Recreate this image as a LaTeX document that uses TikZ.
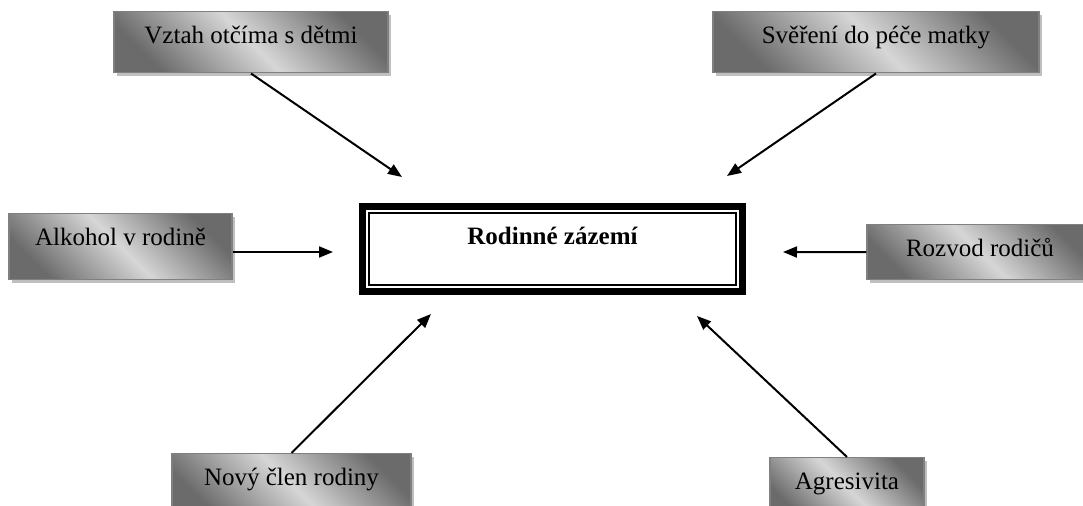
\documentclass[tikz,border=0pt]{standalone}
\usepackage{fontspec}
\setmainfont{Liberation Serif}
\usetikzlibrary{positioning,shadows,calc,arrows.meta}

\begin{document}
\begin{tikzpicture}[x=0.5pt, y=-0.5pt,
    every node/.style={font=\fontsize{12.5}{15}\selectfont},
    cause/.style={draw=black!50, line width=0.75pt,
        top color=black!58, bottom color=black!58, middle color=black!16,
        shading angle=-45,
        drop shadow={shadow xshift=1.5pt, shadow yshift=-1.5pt, fill=black!25, opacity=1},
        anchor=north, inner ysep=0pt, text height=16pt, text depth=#1},
    cause/.default=14.5pt,
    hubbox/.style={draw, line width=3.3pt, outer sep=0pt, fill=white,
        minimum width=190.25pt, minimum height=42.75pt,
        text height=9pt, text depth=13pt,
        font=\fontsize{12.5}{15}\selectfont\bfseries},
    link/.style={line width=1pt, -{Triangle[length=7pt,width=5.5pt]}}]

    \useasboundingbox (0,0) rectangle (1083,506);

    % central box with double frame
    \node[hubbox] (hub) at (552.5,249) {Rodinné zázemí};
    \draw[line width=0.8pt] ($(hub.north west)+(6.5,6.5)$) rectangle ($(hub.south east)+(-6.5,-6.5)$);

    % influences
    \node[cause, minimum width=137pt] (vztah) at (251,11) {Vztah otčíma s dětmi};
    \node[cause, minimum width=163pt] (sverem) at (876,11) {Svěření do péče matky};
    \node[cause=17pt, minimum width=111.5pt] (alkohol) at (120.5,213) {Alkohol v rodině};
    \node[cause=11.5pt, minimum width=113pt] (rozvod) at (980,224) {Rozvod rodičů};
    \node[cause=15pt, minimum width=119.5pt] (novy) at (291.5,453) {Nový člen rodiny};
    \node[cause=14pt, minimum width=77pt] (agres) at (847,457) {Agresivita};

    % arrow tips around the central box
    \coordinate (tipNW) at (402,177);
    \coordinate (tipNE) at (727,176);
    \coordinate (tipW) at (333,252);
    \coordinate (tipE) at (783,252);
    \coordinate (tipSW) at (431,314);
    \coordinate (tipSE) at (697,316);

    \draw[link] (vztah.south) -- (tipNW);
    \draw[link] (sverem.south) -- (tipNE);
    \draw[link] (alkohol.east |- tipW) -- (tipW);
    \draw[link] (rozvod.west) -- (tipE);
    \draw[link] (novy.north) -- (tipSW);
    \draw[link] (agres.north) -- (tipSE);
\end{tikzpicture}
\end{document}
